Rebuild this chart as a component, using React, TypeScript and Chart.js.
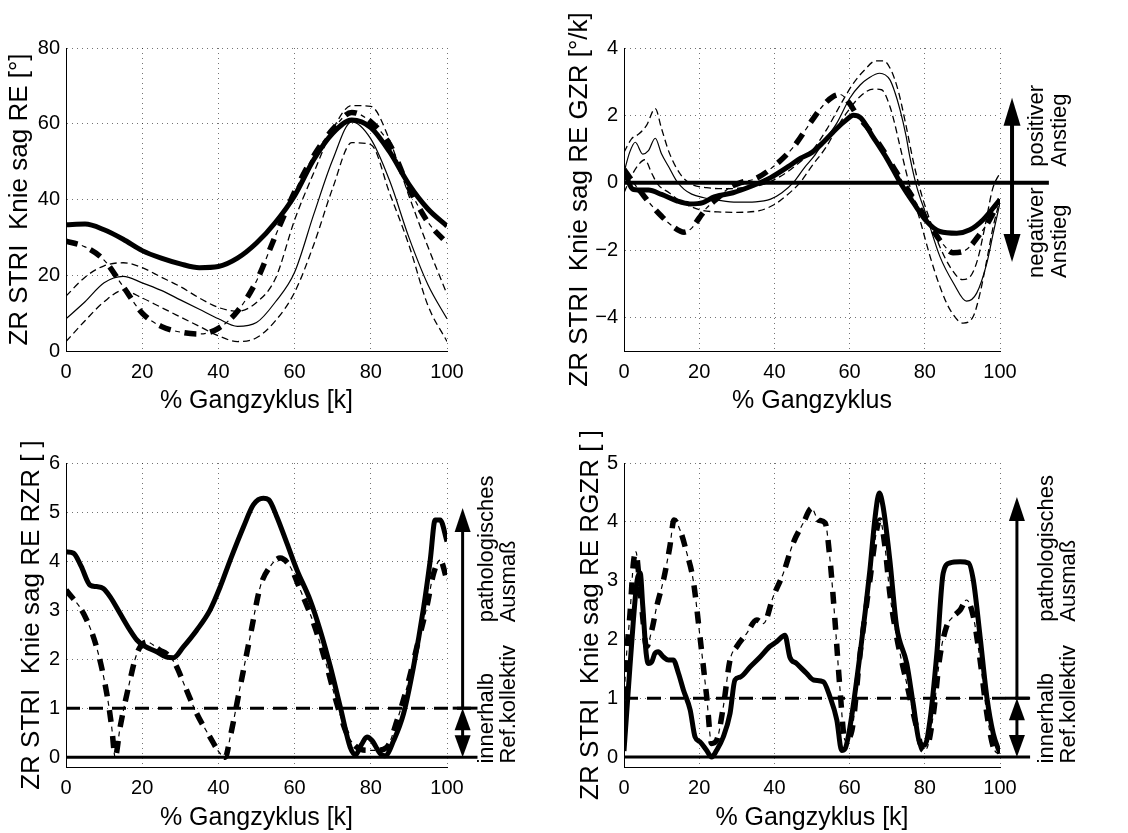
import { useEffect, useRef } from "react";
import { Chart, registerables } from "chart.js";

Chart.register(...registerables);

const FONT = "'Liberation Sans', Arial, Helvetica, sans-serif";

// ---------- shared ticks ----------
const X_TICKS = [0, 20, 40, 60, 80, 100];
const P1_Y_TICKS = [0, 20, 40, 60, 80];
const P2_Y_TICKS = [-4, -2, 0, 2, 4];
const P3_Y_TICKS = [0, 1, 2, 3, 4, 5, 6];
const P4_Y_TICKS = [0, 1, 2, 3, 4, 5];

// ---------- Plot 1: Knie sag RE [°] ----------
const P1_X = [0, 5, 10, 15, 20, 25, 30, 35, 40, 45, 50, 55, 60, 65, 70, 75, 80, 85, 90, 95, 100];
const P1_PATIENT = [33.3, 33.5, 32, 29.5, 26.5, 24.5, 23, 22, 22.3, 24.5, 28.5, 34, 41, 50.5, 57.5, 61, 59, 52.5, 44, 37.5, 33];
const P1_PATIENT_DD = [29, 27.5, 24, 17, 10, 6.5, 5, 4.5, 6, 10.5, 18.5, 30.5, 42, 51.5, 58.5, 63, 60.5, 54.5, 43, 34, 28.5];
const P1_REF_MEAN = [8.5, 13, 18, 19.7, 18, 16, 13.5, 11, 8.5, 6.5, 7.5, 13, 20.8, 36, 50.5, 60.5, 56, 44.8, 30, 17.5, 8.5];
const P1_REF_UP = [14.5, 19.5, 22.5, 23.3, 22, 19.5, 17, 14, 11.5, 10.5, 12.8, 19.2, 34.6, 47, 58.5, 64.8, 64.6, 55.5, 41, 27.5, 15];
const P1_REF_LO = [2.5, 8, 13, 16, 14, 11.5, 9, 6.5, 4, 2.5, 3.5, 8, 15.5, 28, 43, 55, 54.5, 41.5, 28, 12, 2.5];

// ---------- Plot 2: Knie sag RE GZR [°/k] ----------
const P2_PATIENT_X = [0, 2.5, 6.5, 10, 14, 17.5, 21, 24, 29, 34, 39, 44, 47, 50, 53, 56.5, 59, 61, 63, 66, 70, 73.5, 77, 80.5, 84, 88.5, 92, 95.5, 100];
const P2_PATIENT = [0.35, -0.2, -0.22, -0.35, -0.54, -0.63, -0.59, -0.42, -0.3, -0.1, 0.15, 0.5, 0.73, 0.9, 1.2, 1.6, 1.85, 2.0, 1.92, 1.4, 0.7, 0.0, -0.6, -1.15, -1.45, -1.5, -1.4, -1.1, -0.5];
const P2_DD_X = [0, 2.5, 5, 7.5, 10, 13, 16, 18, 20, 22, 25, 28, 31, 35, 40, 45, 50, 53, 55.5, 57.5, 60, 62, 65, 69, 72.5, 76, 78, 80.5, 83, 85, 87.5, 90, 92, 94.5, 97, 100];
const P2_DD = [0.4, 0.0, -0.35, -0.7, -1.0, -1.3, -1.47, -1.35, -1.05, -0.75, -0.45, -0.15, 0.0, 0.12, 0.5, 1.05, 1.85, 2.3, 2.55, 2.62, 2.35, 2.0, 1.6, 0.95, 0.3, -0.3, -0.65, -1.1, -1.55, -1.85, -2.08, -2.05, -1.9, -1.55, -1.15, -0.5];
const P2_MEAN_X = [0, 1.5, 3, 5, 6.5, 8.3, 10, 12, 14, 16, 18, 21, 25, 30, 35, 39, 42, 45, 48, 50.5, 53, 56.6, 60, 62.8, 65, 68, 70.7, 72, 73.4, 75, 76, 77.8, 80.5, 84, 87.6, 91.1, 93.8, 96.5, 98.2, 100];
const P2_MEAN = [0.3, 0.9, 1.2, 0.85, 0.95, 1.32, 0.85, 0.45, 0.05, -0.2, -0.34, -0.44, -0.52, -0.58, -0.57, -0.49, -0.3, 0.0, 0.45, 0.78, 1.2, 1.77, 2.5, 2.9, 3.1, 3.25, 3.06, 2.7, 2.17, 1.4, 0.78, -0.1, -1.0, -2.19, -2.98, -3.52, -3.28, -2.39, -1.5, -0.6];
const P2_UP_X = [0, 2, 4, 6, 8.3, 10, 12, 15, 18, 22, 27, 32, 37, 41, 45, 50, 54, 58, 61, 64, 67, 69, 71, 73, 75, 77, 79, 81, 84, 87, 90, 92, 94, 96, 98, 100];
const P2_UP = [0.9, 1.3, 1.45, 1.7, 2.2, 1.6, 0.9, 0.25, -0.05, -0.15, -0.18, -0.15, -0.05, 0.15, 0.45, 0.95, 1.6, 2.4, 2.95, 3.35, 3.62, 3.62, 3.35, 2.7, 1.7, 0.6, -0.3, -1.0, -1.9, -2.55, -2.88, -2.8, -2.3, -1.3, -0.2, 0.3];
const P2_LO_X = [0, 2, 4, 5.5, 7.5, 9, 12, 15, 20, 25, 30, 36, 40, 43, 46.8, 50, 53.9, 57, 59.2, 62.8, 66.3, 68.5, 70.7, 72, 73.4, 76, 78.7, 81.4, 84, 86.7, 90.2, 92.9, 94.7, 96.5, 98.2, 100];
const P2_LO = [-0.3, 0.2, 0.55, 0.68, 0.25, -0.05, -0.3, -0.55, -0.8, -0.87, -0.88, -0.83, -0.65, -0.4, 0.0, 0.5, 1.08, 1.7, 2.07, 2.56, 2.78, 2.76, 2.27, 1.75, 1.08, -0.1, -1.1, -2.19, -3.08, -3.77, -4.17, -3.97, -3.28, -2.29, -1.3, -0.5];
const P2_ZERO_X = [0, 113];
const P2_ZERO_Y = [0, 0];

// ---------- Plot 3: Knie sag RE RZR [ ] ----------
const P3_PATIENT_X = [0, 2, 4, 6.3, 8, 9.8, 11.6, 14.2, 16.8, 18.6, 20.3, 23.8, 26.4, 28.2, 30.8, 34.3, 37.8, 40.5, 43.1, 46.6, 49.2, 51.8, 53.2, 55.3, 58, 60.6, 64.1, 66.7, 69.4, 72, 74.6, 76, 77.5, 79, 80.3, 82.5, 83.8, 86, 88.6, 91.2, 93.9, 95.6, 96.9, 98.2, 100];
const P3_PATIENT = [4.19, 4.16, 3.89, 3.51, 3.48, 3.44, 3.27, 2.93, 2.59, 2.39, 2.28, 2.15, 2.04, 2.03, 2.25, 2.59, 3.0, 3.48, 4.02, 4.7, 5.15, 5.28, 5.25, 4.91, 4.36, 3.82, 3.2, 2.59, 1.84, 1.02, 0.2, 0.05, 0.25, 0.41, 0.34, 0.07, 0.03, 0.34, 0.89, 1.84, 3.07, 4.02, 4.84, 4.84, 4.4];
const P3_DD_X = [0, 4.6, 8, 10.7, 12, 12.9, 14.2, 16.4, 18.6, 21.2, 24.7, 26.4, 28.6, 31.3, 34.3, 37.8, 40.5, 41.8, 43.1, 45.7, 48.3, 51, 53.6, 56.2, 58.8, 61.5, 65, 68.5, 71.1, 73.7, 76.4, 79, 81.6, 84.2, 86.9, 89.5, 92.1, 94.7, 96.5, 98.2, 100];
const P3_DD = [3.41, 2.93, 2.25, 1.3, 0.61, 0, 0.61, 1.43, 2.11, 2.35, 2.18, 2.11, 1.91, 1.43, 0.89, 0.41, 0.07, 0, 0.41, 1.43, 2.45, 3.48, 3.89, 4.06, 3.89, 3.41, 2.73, 1.84, 1.09, 0.48, 0.2, 0.14, 0.14, 0.2, 0.75, 1.43, 2.25, 3.07, 3.75, 4.02, 3.61];
const P3_LIMIT_X = [0, 108];
const P3_ONE_Y = [1, 1];
const P3_ZERO_Y = [0, 0];
const P3_MARK_X = [101.5, 108];

// ---------- Plot 4: Knie sag RE RGZR [ ] ----------
const P4_PATIENT_X = [0, 1.2, 2.5, 3.5, 4.3, 5, 5.9, 6.5, 7.4, 8.2, 9.1, 10.5, 11.8, 13.1, 14.5, 15.8, 17.6, 18.9, 20.2, 22, 23.3, 24.6, 26.4, 28.2, 29.5, 30.9, 33.5, 36.2, 38.8, 40.6, 42.8, 44.1, 45.9, 48.6, 50.4, 53, 54.8, 56.6, 57.9, 58.8, 60.1, 62.8, 65.4, 66.8, 67.9, 68.9, 70.7, 72.5, 75.2, 76.9, 78.7, 80, 81.4, 83.2, 84.9, 86.7, 89.4, 91.6, 92.9, 94.7, 96.5, 98.2, 100];
const P4_PATIENT = [0.1, 1.19, 2.33, 3.01, 3.13, 2.56, 1.76, 1.59, 1.62, 1.76, 1.79, 1.7, 1.65, 1.65, 1.42, 1.14, 0.8, 0.34, 0.26, 0.11, 0, 0.11, 0.34, 0.74, 1.31, 1.36, 1.53, 1.7, 1.88, 1.96, 2.07, 1.7, 1.59, 1.42, 1.31, 1.28, 1.02, 0.63, 0.11, 0.14, 0.51, 1.76, 3.18, 4.09, 4.49, 4.26, 3.35, 2.22, 1.59, 0.91, 0.23, 0.2, 0.63, 1.76, 3.13, 3.3, 3.32, 3.3, 3.01, 2.05, 1.02, 0.4, 0.06];
const P4_DD_X = [0, 0.7, 1.6, 2.5, 3.2, 3.8, 4.7, 6, 7.4, 8.7, 10.5, 12.2, 13.3, 14.9, 16.7, 18.4, 20.2, 22, 23.3, 24.6, 26.4, 28.2, 30, 32.6, 35.3, 37.1, 39.7, 42.4, 45, 47.7, 49.9, 51.7, 53.5, 54.8, 56.1, 57.4, 58.8, 60.6, 62.8, 65.4, 67.2, 68.1, 69.4, 70.7, 72.5, 75.2, 77.8, 79.6, 80.5, 82.3, 84, 85.8, 87.6, 89.4, 91.1, 92.9, 94.7, 96.5, 98.2, 100];
const P4_DD = [1.0, 1.76, 2.44, 3.3, 3.49, 3.18, 2.56, 1.88, 2.16, 2.56, 3.01, 3.58, 4.03, 3.86, 3.47, 3.01, 2.05, 1.02, 0.23, 0.28, 0.85, 1.65, 1.88, 2.1, 2.33, 2.27, 2.73, 3.13, 3.64, 3.98, 4.23, 4.03, 3.98, 3.35, 2.33, 1.19, 0.28, 0.45, 1.76, 3.01, 3.86, 4.03, 3.58, 2.78, 2.05, 1.25, 0.51, 0.11, 0.14, 0.74, 1.7, 2.22, 2.39, 2.5, 2.67, 2.39, 1.65, 0.74, 0.17, 0.03];
const P4_LIMIT_X = [0, 108];
const P4_ONE_Y = [1, 1];
const P4_ZERO_Y = [0, 0];
const P4_MARK_X = [101.5, 108];

// ---------- helpers ----------
type Style = "thick" | "thin" | "dashed" | "dashdot";
type Series = { xs: number[]; ys: number[]; style: Style };
type RefLine = { xs: number[]; ys: number[]; width: number; dash?: number[] };
type Arrow = { x: number; from: number; to: number; headFrom: boolean; headTo: boolean; w: number; hw: number; hl: number };
type Label = { text: string; x: number; dx: number; y: number };
type Plot = {
  left: number; top: number; w: number; h: number;
  area: { l: number; t: number; r: number; b: number };
  yMin: number; yMax: number; yTicks: number[];
  yTitle: string; yTitlePad: number; xTitle: string;
  series: Series[]; refs: RefLine[]; arrows: Arrow[]; labels: Label[];
};

function pts(xs: number[], ys: number[]) {
  return xs.map((x, i) => ({ x, y: ys[i] }));
}

function seriesDatasets(s: Series): any[] {
  const base = {
    data: pts(s.xs, s.ys),
    borderColor: "#000",
    pointRadius: 0,
    fill: false,
    cubicInterpolationMode: "monotone",
    borderJoinStyle: "round",
  };
  switch (s.style) {
    case "thick":
      return [{ ...base, borderWidth: 5 }];
    case "thin":
      return [{ ...base, borderWidth: 1.2 }];
    case "dashed":
      return [{ ...base, borderWidth: 1.3, borderDash: [7, 4] }];
    case "dashdot":
      return [
        { ...base, borderWidth: 5.5, borderDash: [12, 14] },
        { ...base, borderWidth: 1.2, borderDash: [5, 21], borderDashOffset: 9.5 },
      ];
  }
}

function fmt(v: number) {
  return v < 0 ? "\u2212" + Math.abs(v) : String(v);
}

function drawHead(ctx: CanvasRenderingContext2D, x: number, tipY: number, dir: number, hw: number, hl: number) {
  // dir = -1 pointing up, +1 pointing down
  ctx.beginPath();
  ctx.moveTo(x, tipY);
  ctx.lineTo(x - hw / 2, tipY - dir * hl);
  ctx.lineTo(x + hw / 2, tipY - dir * hl);
  ctx.closePath();
  ctx.fill();
}

function buildConfig(p: Plot): any {
  const datasets: any[] = [];
  p.series.forEach((s) => datasets.push(...seriesDatasets(s)));
  p.refs.forEach((r) =>
    datasets.push({
      data: pts(r.xs, r.ys),
      borderColor: "#000",
      borderWidth: r.width,
      borderDash: r.dash || [],
      borderDashOffset: 0,
      borderCapStyle: "butt",
      pointRadius: 0,
      fill: false,
      tension: 0,
      clip: false,
    })
  );

  const annot = {
    id: "annot",
    afterDatasetsDraw(chart: any) {
      const { ctx } = chart;
      const xs = chart.scales.x;
      const ys = chart.scales.y;
      ctx.save();
      ctx.fillStyle = "#000";
      ctx.strokeStyle = "#000";
      for (const a of p.arrows) {
        const x = xs.getPixelForValue(a.x);
        const yf = ys.getPixelForValue(a.from);
        const yt = ys.getPixelForValue(a.to);
        const dirTo = yt < yf ? -1 : 1;
        const s1 = a.headFrom ? yf + dirTo * a.hl * 0.8 : yf;
        const s2 = a.headTo ? yt - dirTo * a.hl * 0.8 : yt;
        ctx.lineWidth = a.w;
        ctx.setLineDash([]);
        ctx.beginPath();
        ctx.moveTo(x, s1);
        ctx.lineTo(x, s2);
        ctx.stroke();
        if (a.headTo) drawHead(ctx, x, yt, dirTo, a.hw, a.hl);
        if (a.headFrom) drawHead(ctx, x, yf, -dirTo, a.hw, a.hl);
      }
      ctx.font = `22px ${FONT}`;
      ctx.textAlign = "left";
      ctx.textBaseline = "middle";
      for (const l of p.labels) {
        ctx.save();
        ctx.translate(xs.getPixelForValue(l.x) + l.dx, ys.getPixelForValue(l.y));
        ctx.rotate(-Math.PI / 2);
        ctx.fillText(l.text, 0, 0);
        ctx.restore();
      }
      ctx.restore();
    },
  };

  const grid = { color: "rgba(0,0,0,0.55)", lineWidth: 1, drawTicks: false };
  const border = { display: true, color: "#000", width: 1, dash: [1, 4] };
  const tickFont = { family: FONT, size: 20 };
  const xTitleFont = { family: FONT, size: 25, lineHeight: 1.2 };
  const yTitleFont = { family: FONT, size: 26, lineHeight: 1.2 };

  return {
    type: "line",
    data: { datasets },
    options: {
      animation: false,
      responsive: false,
      maintainAspectRatio: false,
      devicePixelRatio: 1,
      layout: {
        autoPadding: false,
        padding: { left: 0, top: p.area.t, right: p.w - p.area.r, bottom: 0 },
      },
      plugins: { legend: { display: false }, tooltip: { enabled: false } },
      elements: { point: { radius: 0 } },
      scales: {
        x: {
          type: "linear",
          min: 0,
          max: 100,
          afterBuildTicks: (s: any) => {
            s.ticks = X_TICKS.map((v) => ({ value: v }));
          },
          afterFit: (s: any) => {
            s.height = p.h - p.area.b;
          },
          grid,
          border,
          ticks: { color: "#000", font: tickFont, padding: 9, maxRotation: 0, autoSkip: false, callback: (v: any) => fmt(Number(v)) },
          title: { display: true, text: p.xTitle, color: "#000", font: xTitleFont, padding: { top: 0, bottom: 0 } },
        },
        y: {
          type: "linear",
          min: p.yMin,
          max: p.yMax,
          afterBuildTicks: (s: any) => {
            s.ticks = p.yTicks.map((v) => ({ value: v }));
          },
          afterFit: (s: any) => {
            s.width = p.area.l;
          },
          grid,
          border,
          ticks: { color: "#000", font: tickFont, padding: 6, autoSkip: false, callback: (v: any) => fmt(Number(v)) },
          title: { display: true, text: p.yTitle, color: "#000", font: yTitleFont, padding: { top: p.yTitlePad, bottom: 0 } },
        },
      },
    },
    plugins: [annot],
  };
}

const PLOTS: Plot[] = [
  {
    left: 0, top: 0, w: 560, h: 416,
    area: { l: 66, t: 48, r: 447, b: 351 },
    yMin: 0, yMax: 80, yTicks: P1_Y_TICKS,
    yTitle: "ZR STRI  Knie sag RE [°]", yTitlePad: 4, xTitle: "% Gangzyklus [k]",
    series: [
      { xs: P1_X, ys: P1_PATIENT, style: "thick" },
      { xs: P1_X, ys: P1_PATIENT_DD, style: "dashdot" },
      { xs: P1_X, ys: P1_REF_MEAN, style: "thin" },
      { xs: P1_X, ys: P1_REF_UP, style: "dashed" },
      { xs: P1_X, ys: P1_REF_LO, style: "dashed" },
    ],
    refs: [], arrows: [], labels: [],
  },
  {
    left: 560, top: 0, w: 568, h: 416,
    area: { l: 64, t: 48, r: 440, b: 351 },
    yMin: -5, yMax: 4, yTicks: P2_Y_TICKS,
    yTitle: "ZR STRI  Knie sag RE GZR [°/k]", yTitlePad: 4, xTitle: "% Gangzyklus",
    series: [
      { xs: P2_PATIENT_X, ys: P2_PATIENT, style: "thick" },
      { xs: P2_DD_X, ys: P2_DD, style: "dashdot" },
      { xs: P2_MEAN_X, ys: P2_MEAN, style: "thin" },
      { xs: P2_UP_X, ys: P2_UP, style: "dashed" },
      { xs: P2_LO_X, ys: P2_LO, style: "dashed" },
    ],
    refs: [{ xs: P2_ZERO_X, ys: P2_ZERO_Y, width: 4 }],
    arrows: [{ x: 103.2, from: -2.36, to: 2.52, headFrom: true, headTo: true, w: 4, hw: 17, hl: 28 }],
    labels: [
      { text: "positiver", x: 103.2, dx: 25, y: 0.47 },
      { text: "Anstieg", x: 103.2, dx: 48, y: 0.47 },
      { text: "negativer", x: 103.2, dx: 25, y: -2.83 },
      { text: "Anstieg", x: 103.2, dx: 48, y: -2.83 },
    ],
  },
  {
    left: 0, top: 416, w: 560, h: 417,
    area: { l: 66, t: 47, r: 447, b: 351 },
    yMin: -0.2, yMax: 6, yTicks: P3_Y_TICKS,
    yTitle: "ZR STRI  Knie sag RE RZR [ ]", yTitlePad: 16, xTitle: "% Gangzyklus [k]",
    series: [
      { xs: P3_PATIENT_X, ys: P3_PATIENT, style: "thick" },
      { xs: P3_DD_X, ys: P3_DD, style: "dashdot" },
    ],
    refs: [
      { xs: P3_LIMIT_X, ys: P3_ONE_Y, width: 3, dash: [14, 9] },
      { xs: P3_LIMIT_X, ys: P3_ZERO_Y, width: 3 },
      { xs: P3_MARK_X, ys: P3_ONE_Y, width: 3 },
    ],
    arrows: [
      { x: 104.1, from: 1, to: 5.08, headFrom: false, headTo: true, w: 3, hw: 16, hl: 24 },
      { x: 104.1, from: 0, to: 1, headFrom: true, headTo: true, w: 3, hw: 16, hl: 22 },
    ],
    labels: [
      { text: "pathologisches", x: 104.1, dx: 24, y: 2.75 },
      { text: "Ausmaß", x: 104.1, dx: 46, y: 2.75 },
      { text: "innerhalb", x: 104.1, dx: 24, y: -0.13 },
      { text: "Ref.kollektiv", x: 104.1, dx: 46, y: -0.13 },
    ],
  },
  {
    left: 560, top: 416, w: 568, h: 417,
    area: { l: 64, t: 47, r: 440, b: 351 },
    yMin: -0.17, yMax: 5, yTicks: P4_Y_TICKS,
    yTitle: "ZR STRI  Knie sag RE RGZR [ ]", yTitlePad: 15, xTitle: "% Gangzyklus [k]",
    series: [
      { xs: P4_PATIENT_X, ys: P4_PATIENT, style: "thick" },
      { xs: P4_DD_X, ys: P4_DD, style: "dashdot" },
    ],
    refs: [
      { xs: P4_LIMIT_X, ys: P4_ONE_Y, width: 3, dash: [14, 9] },
      { xs: P4_LIMIT_X, ys: P4_ZERO_Y, width: 3 },
      { xs: P4_MARK_X, ys: P4_ONE_Y, width: 3 },
    ],
    arrows: [
      { x: 104.5, from: 1, to: 4.42, headFrom: false, headTo: true, w: 3, hw: 16, hl: 24 },
      { x: 104.5, from: 0, to: 1, headFrom: true, headTo: true, w: 3, hw: 16, hl: 22 },
    ],
    labels: [
      { text: "pathologisches", x: 104.5, dx: 30, y: 2.3 },
      { text: "Ausmaß", x: 104.5, dx: 52, y: 2.3 },
      { text: "innerhalb", x: 104.5, dx: 30, y: -0.11 },
      { text: "Ref.kollektiv", x: 104.5, dx: 52, y: -0.11 },
    ],
  },
];

export default function App() {
  const r0 = useRef<HTMLCanvasElement>(null);
  const r1 = useRef<HTMLCanvasElement>(null);
  const r2 = useRef<HTMLCanvasElement>(null);
  const r3 = useRef<HTMLCanvasElement>(null);
  const refs = [r0, r1, r2, r3];

  useEffect(() => {
    const charts = PLOTS.map((p, i) => new Chart(refs[i].current as HTMLCanvasElement, buildConfig(p)));
    return () => charts.forEach((c) => c.destroy());
  }, []);

  return (
    <div style={{ position: "absolute", left: 0, top: 0, width: 1128, height: 833, background: "#fff" }}>
      {PLOTS.map((p, i) => (
        <canvas
          key={i}
          ref={refs[i]}
          width={p.w}
          height={p.h}
          style={{ position: "absolute", left: p.left, top: p.top, width: p.w, height: p.h }}
        />
      ))}
    </div>
  );
}
